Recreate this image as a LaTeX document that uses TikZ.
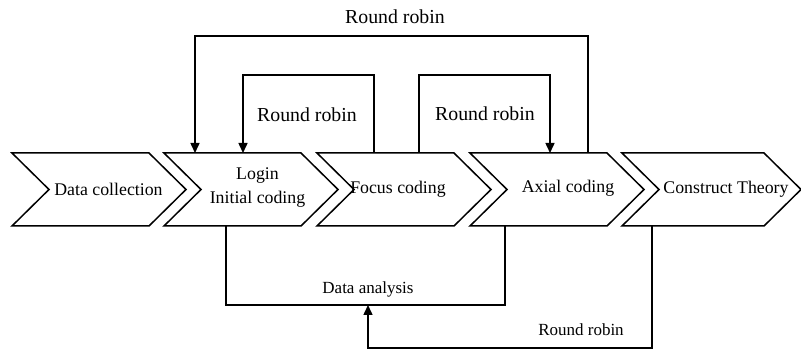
\documentclass[tikz,border=0pt]{standalone}
\usepackage{fontspec}
\setmainfont{Liberation Serif}
\usetikzlibrary{arrows.meta}
\tikzstyle{stage} = [rectangle, minimum height=73pt, inner sep=0pt, outer sep=0pt]
\tikzstyle{txt} = [font=\fontsize{17.8}{24}\selectfont, align=center, inner sep=1pt]
\tikzstyle{toplabel} = [font=\fontsize{19.8}{23}\selectfont, inner sep=1pt]
\tikzstyle{botlabel} = [font=\fontsize{17}{20}\selectfont, inner sep=1pt]
\tikzstyle{link} = [line width=1.5pt]
\tikzstyle{arrow} = [line width=1.5pt, -{Triangle[length=10pt,width=9pt]}]

\begin{document}
\begin{tikzpicture}[x=1pt, y=-1pt]
        \useasboundingbox (0,0) rectangle (801,352);

        % the five stages
        \foreach \n/\x/\w in {1/80.5/137, 2/232.5/137, 3/385.5/137, 4/538.5/137, 5/693/142} {
            \node (c\n) [stage, minimum width=\w pt] at (\x,189.5) {};
            \draw [link, line join=miter] (c\n.north west) -- (c\n.north east) -- ([xshift=37pt]c\n.east)
                -- (c\n.south east) -- (c\n.south west) -- ([xshift=37pt]c\n.west) -- cycle;
        }

        \node (t1) [txt] at (108.5,189) {Data collection};
        \node (t2) [txt] at (257.5,188) {Login\\Initial coding};
        \node (t3) [txt] at (398,189) {Focus coding};
        \node (t4) [txt] at (568,188) {Axial coding};
        \node (t5) [txt] at (726,189) {Construct Theory};

        % loops above
        \coordinate (o1) at (195,36);
        \coordinate (o2) at (588,36);
        \coordinate (a1) at (243,75);
        \coordinate (a2) at (374,75);
        \coordinate (b1) at (419,75);
        \coordinate (b2) at (550,75);

        \draw [arrow] (c4.north -| o2) -- (o2) -- (o1) -- (o1 |- c2.north);
        \draw [arrow] (c3.north -| a2) -- (a2) -- (a1) -- (a1 |- c2.north);
        \draw [arrow] (c3.north -| b1) -- (b1) -- (b2) -- (b2 |- c4.north);

        \node (r1) [toplabel] at (395,17) {Round robin};
        \node (r2) [toplabel] at (307,115) {Round robin};
        \node (r3) [toplabel] at (485,114) {Round robin};

        % loops below
        \coordinate (d1) at (226,305);
        \coordinate (d2) at (505,305);
        \coordinate (da) at (368,305);
        \coordinate (e1) at (652,348);
        \coordinate (e2) at (368,348);

        \draw [link] (c2.south -| d1) -- (d1) -- (d2) -- (d2 |- c4.south);
        \draw [arrow] (c5.south -| e1) -- (e1) -- (e2) -- (da);

        \node (da1) [botlabel] at (368,289) {Data analysis};
        \node (r4) [botlabel] at (581,330) {Round robin};

    \end{tikzpicture}
\end{document}
